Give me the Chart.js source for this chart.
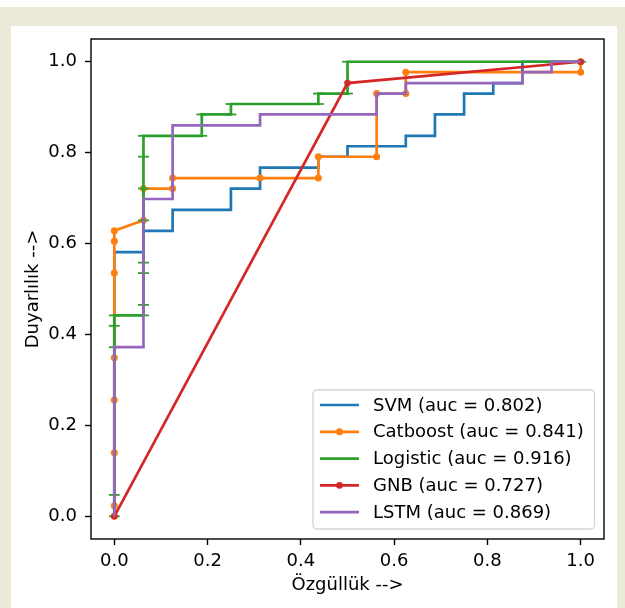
<!DOCTYPE html>
<html>
<head>
<meta charset="utf-8">
<script src="https://cdn.jsdelivr.net/npm/chart.js@4.4.1/dist/chart.umd.min.js"></script>
<style>
  body { margin: 0; background: #fff; }
  #bg { position: absolute; left: 0; top: 7px; width: 625px; height: 601px; background: #ecebda; }
  #panel { position: absolute; left: 11px; top: 26px; width: 606px; height: 582px; background: #fff; }
</style>
</head>
<body>
<div id="bg"></div>
<div id="panel"><canvas id="roc" width="606" height="582"></canvas></div>
<script>
// ROC curves (fpr / tpr)
var models = ["SVM", "Catboost", "Logistic", "GNB", "LSTM"];
var aucs = ["0.802", "0.841", "0.916", "0.727", "0.869"];
var colors = ["#1f77b4", "#ff7f0e", "#2ca02c", "#d62728", "#9467bd"];

var svmFpr = [0, 0, 0.0625, 0.0625, 0.125, 0.125, 0.25, 0.25, 0.3125, 0.3125, 0.4375, 0.4375, 0.5, 0.5, 0.625, 0.625, 0.6875, 0.6875, 0.75, 0.75, 0.8125, 0.8125, 0.875, 0.875, 1];
var svmTpr = [0, 0.581, 0.581, 0.628, 0.628, 0.674, 0.674, 0.721, 0.721, 0.767, 0.767, 0.791, 0.791, 0.814, 0.814, 0.837, 0.837, 0.884, 0.884, 0.930, 0.930, 0.953, 0.953, 1, 1];

var cbFpr = [0, 0, 0, 0, 0, 0, 0, 0, 0.0625, 0.0625, 0.125, 0.125, 0.3125, 0.4375, 0.4375, 0.5625, 0.5625, 0.625, 0.625, 1, 1];
var cbTpr = [0, 0.023, 0.140, 0.256, 0.349, 0.535, 0.605, 0.628, 0.651, 0.721, 0.721, 0.744, 0.744, 0.744, 0.791, 0.791, 0.930, 0.930, 0.977, 0.977, 1];

var lrFpr = [0, 0, 0, 0, 0, 0.0625, 0.0625, 0.0625, 0.0625, 0.0625, 0.0625, 0.0625, 0.0625, 0.1875, 0.1875, 0.25, 0.25, 0.4375, 0.4375, 0.5, 0.5, 1];
var lrTpr = [0, 0.047, 0.372, 0.419, 0.442, 0.442, 0.465, 0.535, 0.558, 0.651, 0.721, 0.791, 0.837, 0.837, 0.884, 0.884, 0.907, 0.907, 0.930, 0.930, 1, 1];

var gnbFpr = [0, 0.5, 1];
var gnbTpr = [0, 0.953, 1];

var lstmFpr = [0, 0, 0.0625, 0.0625, 0.125, 0.125, 0.3125, 0.3125, 0.5625, 0.5625, 0.625, 0.625, 0.875, 0.875, 0.9375, 0.9375, 1];
var lstmTpr = [0, 0.372, 0.372, 0.698, 0.698, 0.860, 0.860, 0.884, 0.884, 0.930, 0.930, 0.953, 0.953, 0.977, 0.977, 1, 1];

var xTicks = [0, 0.2, 0.4, 0.6, 0.8, 1.0];
var yTicks = [0, 0.2, 0.4, 0.6, 0.8, 1.0];

var fprs = [svmFpr, cbFpr, lrFpr, gnbFpr, lstmFpr];
var tprs = [svmTpr, cbTpr, lrTpr, gnbTpr, lstmTpr];
// marker per series: none, 'o', '_', '.', none
var markers = [
  { style: "circle", r: 0, bw: 0 },
  { style: "circle", r: 3.5, bw: 0 },
  { style: "line", r: 5.4, bw: 1.8 },
  { style: "circle", r: 3.3, bw: 0 },
  { style: "circle", r: 0, bw: 0 }
];

Chart.defaults.font.family = "'DejaVu Sans', sans-serif";
Chart.defaults.color = "#000";

var datasets = models.map(function (m, i) {
  return {
    label: m + " (auc = " + aucs[i] + ")",
    data: fprs[i].map(function (x, j) { return { x: x, y: tprs[i][j] }; }),
    borderColor: colors[i],
    backgroundColor: colors[i],
    borderWidth: 2.7,
    tension: 0,
    pointStyle: markers[i].style,
    pointRadius: markers[i].r,
    pointBorderWidth: markers[i].bw,
    pointBorderColor: colors[i],
    pointBackgroundColor: colors[i],
    pointHoverRadius: markers[i].r,
    order: models.length - i
  };
});

var frame = {
  id: "frame",
  afterDatasetsDraw: function (chart) {
    var a = chart.chartArea, ctx = chart.ctx;
    ctx.save();
    ctx.strokeStyle = "#000";
    ctx.lineWidth = 1.4;
    ctx.strokeRect(a.left, a.top, a.right - a.left, a.bottom - a.top);
    ctx.restore();
  }
};

var legendBox = {
  id: "legendBox",
  afterDraw: function (chart) {
    var a = chart.chartArea, ctx = chart.ctx;
    var w = 281.5, h = 139, r = 4;
    var x0 = a.right - 9.5 - w, y0 = a.bottom - 10 - h;
    ctx.save();
    ctx.beginPath();
    ctx.moveTo(x0 + r, y0);
    ctx.arcTo(x0 + w, y0, x0 + w, y0 + h, r);
    ctx.arcTo(x0 + w, y0 + h, x0, y0 + h, r);
    ctx.arcTo(x0, y0 + h, x0, y0, r);
    ctx.arcTo(x0, y0, x0 + w, y0, r);
    ctx.closePath();
    ctx.fillStyle = "rgba(255,255,255,0.8)";
    ctx.fill();
    ctx.strokeStyle = "#d4d4d4";
    ctx.lineWidth = 1.3;
    ctx.stroke();
    ctx.font = "18px 'DejaVu Sans'";
    ctx.textBaseline = "middle";
    ctx.textAlign = "left";
    chart.data.datasets.forEach(function (ds, i) {
      var y = y0 + 15 + i * 26.8;
      var lx = x0 + 7;
      ctx.strokeStyle = ds.borderColor;
      ctx.lineWidth = 2.7;
      ctx.beginPath();
      ctx.moveTo(lx, y);
      ctx.lineTo(lx + 39, y);
      ctx.stroke();
      if (ds.pointStyle === "circle" && ds.pointRadius > 0) {
        ctx.fillStyle = ds.borderColor;
        ctx.beginPath();
        ctx.arc(lx + 19.5, y, ds.pointRadius, 0, Math.PI * 2);
        ctx.fill();
      }
      ctx.fillStyle = "#000";
      ctx.fillText(ds.label, lx + 53, y + 1);
    });
    ctx.restore();
  }
};

function fixTicks(list) {
  return function (scale) {
    scale.ticks = list.map(function (v) { return { value: v }; });
  };
}

new Chart(document.getElementById("roc"), {
  type: "line",
  data: { datasets: datasets },
  plugins: [frame, legendBox],
  options: {
    responsive: false,
    animation: false,
    layout: { padding: { left: 0, top: 13, right: 13, bottom: 0 } },
    plugins: { legend: { display: false }, tooltip: { enabled: false } },
    scales: {
      x: {
        type: "linear",
        min: -0.05,
        max: 1.05,
        afterBuildTicks: fixTicks(xTicks),
        afterFit: function (s) { s.height = 69; s.paddingLeft = 0; s.paddingRight = 0; },
        grid: { drawOnChartArea: false, drawTicks: true, tickLength: 6, tickWidth: 1.4, tickColor: "#000" },
        border: { display: false },
        ticks: { font: { size: 18 }, color: "#000", padding: 6, maxRotation: 0,
          callback: function (v) { return v.toFixed(1); } },
        title: { display: true, text: "Özgüllük -->", font: { size: 18, lineHeight: 1.2 }, color: "#000", padding: { top: 0, bottom: 12 } }
      },
      y: {
        type: "linear",
        min: -0.05,
        max: 1.05,
        afterBuildTicks: fixTicks(yTicks),
        afterFit: function (s) { s.width = 80; s.paddingTop = 0; s.paddingBottom = 0; },
        grid: { drawOnChartArea: false, drawTicks: true, tickLength: 6, tickWidth: 1.4, tickColor: "#000" },
        border: { display: false },
        ticks: { font: { size: 18 }, color: "#000", padding: 8,
          callback: function (v) { return v.toFixed(1); } },
        title: { display: true, text: "Duyarlılık -->", font: { size: 18, lineHeight: 1.2 }, color: "#000", padding: { top: 12, bottom: 0 } }
      }
    }
  }
});
</script>
</body>
</html>
